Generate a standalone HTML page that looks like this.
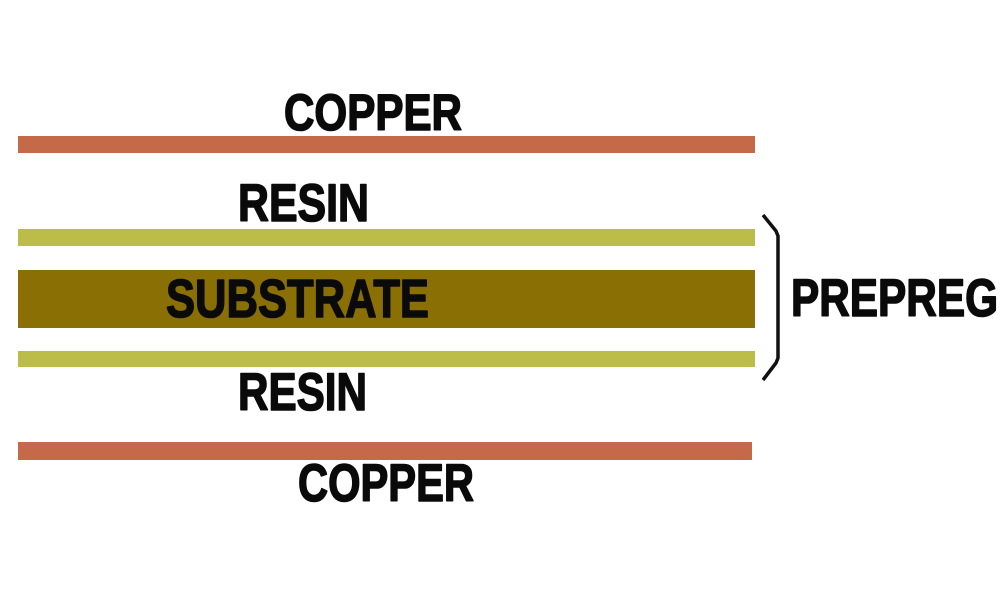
<!DOCTYPE html>
<html><head><meta charset="utf-8"><style>
html,body{margin:0;padding:0;background:#fff;width:1000px;height:600px;overflow:hidden}
svg{display:block}
text{font-family:"Liberation Sans",Arial,sans-serif;font-weight:bold;fill:#0a0a0a;stroke:#0a0a0a;stroke-width:1.6;stroke-linejoin:round}
</style></head><body>
<svg width="1000" height="600" viewBox="0 0 1000 600">
<rect x="0" y="0" width="1000" height="600" fill="#fff"/>
<rect x="18" y="136" width="737" height="17" fill="#c46a48"/>
<rect x="18" y="229" width="737" height="17" fill="#bcbd48"/>
<rect x="18" y="270" width="737" height="58" fill="#8a7004"/>
<rect x="18" y="351" width="737" height="16" fill="#bcbd48"/>
<rect x="18" y="442" width="734" height="18" fill="#c46a48"/>
<path d="M763 215 L776 231 L778 236 L778 358 L776 363 L763 380" fill="none" stroke="#111" stroke-width="3.5" stroke-linejoin="round"/>
<text x="284" y="130" font-size="51" textLength="178" lengthAdjust="spacingAndGlyphs">COPPER</text>
<text x="238" y="221" font-size="53" textLength="131" lengthAdjust="spacingAndGlyphs">RESIN</text>
<text x="166" y="317" font-size="54" textLength="263" lengthAdjust="spacingAndGlyphs">SUBSTRATE</text>
<text x="238" y="410" font-size="53" textLength="129" lengthAdjust="spacingAndGlyphs">RESIN</text>
<text x="298" y="501" font-size="53" textLength="176" lengthAdjust="spacingAndGlyphs">COPPER</text>
<text x="791" y="316" font-size="53" textLength="207" lengthAdjust="spacingAndGlyphs">PREPREG</text>
</svg>
</body></html>
